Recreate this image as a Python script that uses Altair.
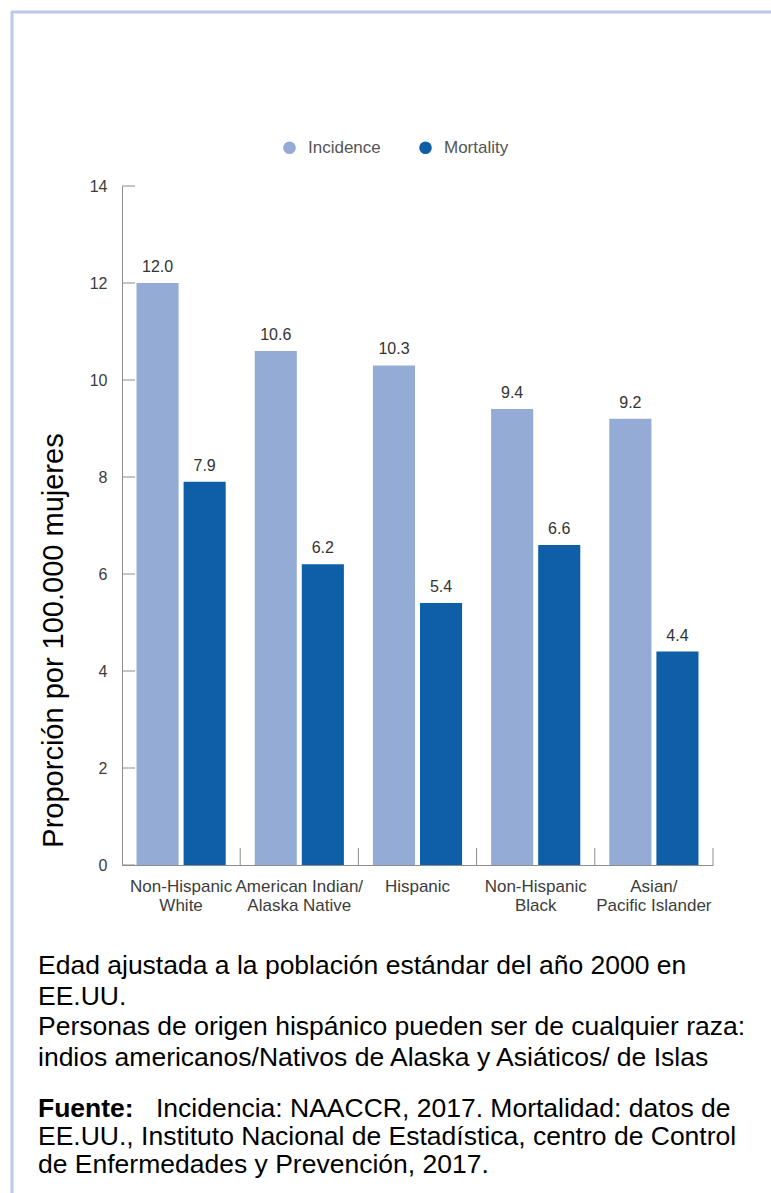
import altair as alt
import pandas as pd

# ---------------- data ----------------
CATEGORIES = ["Non-Hispanic|White", "American Indian/|Alaska Native", "Hispanic",
              "Non-Hispanic|Black", "Asian/|Pacific Islander"]
SERIES = ["Incidence", "Mortality"]
INCIDENCE = [12.0, 10.6, 10.3, 9.4, 9.2]
MORTALITY = [7.9, 6.2, 5.4, 6.6, 4.4]
Y_TICKS = [0, 2, 4, 6, 8, 10, 12, 14]
Y_TITLE = "Proporción por 100.000 mujeres"
NOTE_LINES = [
    "Edad ajustada a la población estándar del año 2000 en",
    "EE.UU.",
    "Personas de origen hispánico pueden ser de cualquier raza:",
    "indios americanos/Nativos de Alaska y Asiáticos/ de Islas",
]
SOURCE_LABEL = "Fuente:"
SOURCE_FIRST = "Incidencia: NAACCR, 2017. Mortalidad: datos de"
SOURCE_REST = [
    "EE.UU., Instituto Nacional de Estadística, centro de Control",
    "de Enfermedades y Prevención, 2017.",
]
COLORS = ["#94acd5", "#0f5fa8"]

rows = []
for c, i, m in zip(CATEGORIES, INCIDENCE, MORTALITY):
    rows.append({"group": c, "series": SERIES[0], "value": i})
    rows.append({"group": c, "series": SERIES[1], "value": m})
df = pd.DataFrame(rows)
cat_df = pd.DataFrame({"group": CATEGORIES})
tick_df = pd.DataFrame({"value": Y_TICKS})
one = pd.DataFrame({"a": [0]})

W, H = 591, 679
LBL_FONT = "Liberation Sans"
TXT_FONT = "Liberation Sans"
AXIS_GREY = "#8c8c8c"
LBL_COLOR = "#3c3c3c"

x_scale = alt.Scale(paddingInner=0, paddingOuter=0)
x_axis = alt.Axis(title=None, labelAngle=0, labelExpr="split(datum.label, '|')",
                  ticks=False, tickSize=0, domainColor=AXIS_GREY, labelPadding=13,
                  labelFont=LBL_FONT, labelFontSize=17, labelColor=LBL_COLOR,
                  labelLineHeight=19)
y_scale = alt.Scale(domain=[0, 14], nice=False)
y_axis = alt.Axis(values=Y_TICKS, grid=False, ticks=False, tickSize=0,
                  domainColor=AXIS_GREY, labelPadding=15,
                  labelFont=LBL_FONT, labelFontSize=16, labelColor=LBL_COLOR,
                  title=Y_TITLE, titleFont=TXT_FONT, titleFontSize=29,
                  titleFontWeight="normal", titleColor="black", titleAngle=270,
                  titleX=-60, titleY=454, titleAlign="center",
                  titleBaseline="alphabetic")

xoff = alt.XOffset("series:N", sort=SERIES,
                   scale=alt.Scale(paddingInner=0.106, paddingOuter=0.308))

bars = alt.Chart(df).mark_bar().encode(
    x=alt.X("group:N", sort=CATEGORIES, scale=x_scale, axis=x_axis),
    xOffset=xoff,
    y=alt.Y("value:Q", scale=y_scale, axis=y_axis),
    color=alt.Color("series:N", sort=SERIES,
                    scale=alt.Scale(domain=SERIES, range=COLORS),
                    legend=alt.Legend(title=None, orient="none", legendX=159, legendY=-47,
                                      direction="horizontal", symbolType="circle",
                                      symbolSize=160, symbolStrokeWidth=0, padding=0,
                                      labelFont=LBL_FONT, labelFontSize=17,
                                      labelColor="#555555", labelOffset=10,
                                      columnPadding=36)),
)

labels = alt.Chart(df).mark_text(dy=-8, baseline="bottom", font=LBL_FONT, fontSize=16,
                                 color="#333333").encode(
    x=alt.X("group:N", sort=CATEGORIES, scale=x_scale, axis=x_axis),
    xOffset=xoff,
    y=alt.Y("value:Q", scale=y_scale, axis=y_axis),
    text=alt.Text("value:Q", format=".1f"),
)

yticks = alt.Chart(tick_df).mark_rule(color=AXIS_GREY, strokeWidth=1).encode(
    y=alt.Y("value:Q", scale=y_scale, axis=y_axis), x=alt.value(0), x2=alt.value(13))

xticks = alt.Chart(cat_df).mark_rule(color=AXIS_GREY, strokeWidth=1).encode(
    x=alt.X("group:N", sort=CATEGORIES, bandPosition=1, scale=x_scale, axis=x_axis),
    y=alt.value(H - 17), y2=alt.value(H))

frame_left = alt.Chart(one).mark_rule(color="#b8cae8", strokeWidth=3).encode(
    x=alt.value(-110), y=alt.value(-174), y2=alt.value(1007))
frame_top = alt.Chart(one).mark_rule(color="#b8cae8", strokeWidth=3).encode(
    x=alt.value(-111), x2=alt.value(649), y=alt.value(-174))

FS = 26.5
note = alt.Chart(one).mark_text(align="left", baseline="alphabetic", font=TXT_FONT,
                                fontSize=FS, color="black", lineHeight=30.5).encode(
    x=alt.value(-84), y=alt.value(788), text=alt.value(NOTE_LINES))
src_lbl = alt.Chart(one).mark_text(align="left", baseline="alphabetic", font=TXT_FONT,
                                   fontSize=FS, fontWeight="bold", color="black").encode(
    x=alt.value(-84), y=alt.value(931), text=alt.value(SOURCE_LABEL))
src_first = alt.Chart(one).mark_text(align="left", baseline="alphabetic", font=TXT_FONT,
                                     fontSize=FS, color="black").encode(
    x=alt.value(34), y=alt.value(931), text=alt.value(SOURCE_FIRST))
src_rest = alt.Chart(one).mark_text(align="left", baseline="alphabetic", font=TXT_FONT,
                                    fontSize=FS, color="black", lineHeight=28).encode(
    x=alt.value(-84), y=alt.value(959), text=alt.value(SOURCE_REST))

chart = alt.layer(bars, labels, yticks, xticks, frame_left, frame_top,
                  note, src_lbl, src_first, src_rest).properties(
    width=W, height=H,
    autosize=alt.AutoSizeParams(type="none"),
    padding={"left": 122, "top": 186, "right": 58, "bottom": 328},
    background="white",
).configure_view(stroke=None)

chart.save("out.html", embed_options={"renderer": "svg", "actions": False})
